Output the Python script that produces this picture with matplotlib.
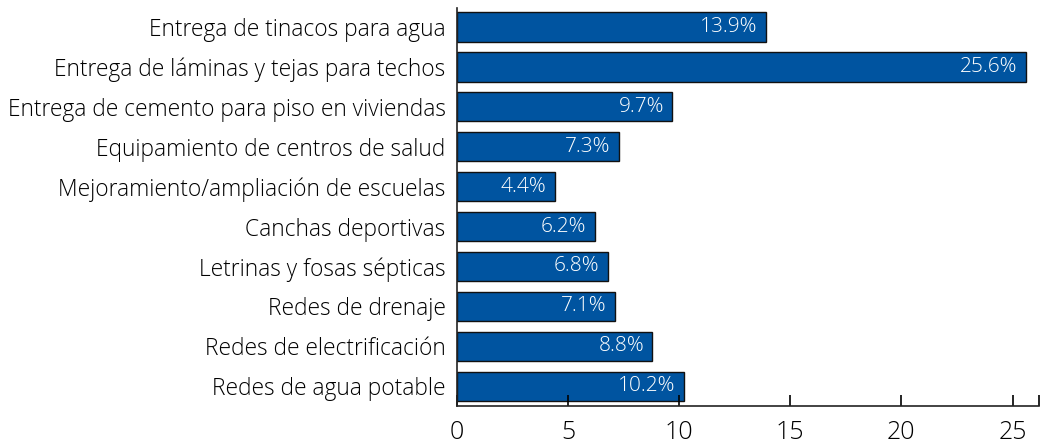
import matplotlib
matplotlib.use("Agg")
import matplotlib.pyplot as plt
from matplotlib.ticker import FixedLocator

plt.rcParams['font.family'] = ['Open Sans', 'DejaVu Sans']
plt.rcParams['font.weight'] = 'light'

categorias = [
    'Entrega de tinacos para agua',
    'Entrega de láminas y tejas para techos',
    'Entrega de cemento para piso en viviendas',
    'Equipamiento de centros de salud',
    'Mejoramiento/ampliación de escuelas',
    'Canchas deportivas',
    'Letrinas y fosas sépticas',
    'Redes de drenaje',
    'Redes de electrificación',
    'Redes de agua potable',
]
valores = [13.9, 25.6, 9.7, 7.3, 4.4, 6.2, 6.8, 7.1, 8.8, 10.2]
xticks = [0, 5, 10, 15, 20, 25]

fig = plt.figure(figsize=(10.55, 4.48), dpi=100)
ax = fig.add_axes([0.433, 0.094, 0.552, 0.888])

pos = list(range(len(categorias)))[::-1]
ax.barh(pos, valores, height=0.74, color='#0054A0', edgecolor='#111111', linewidth=1.0)

for p, v in zip(pos, valores):
    ax.annotate(f'{v:.1f}%', xy=(v, p), xytext=(-6, 0), textcoords='offset points',
                ha='right', va='center', color='white', fontsize=15)

ax.set_yticks(pos)
ax.set_yticklabels(categorias, fontsize=16.4)
ax.tick_params(axis='y', length=0, pad=8)

ax.set_xlim(0, 26.2)
ax.set_ylim(-0.49, 9.47)
ax.set_xticks(xticks)
ax.xaxis.set_minor_locator(FixedLocator([26.2]))
ax.tick_params(axis='x', which='both', direction='in', length=8, width=1.2, labelsize=18, pad=10)
ax.tick_params(axis='x', which='minor', length=8)

for s in ['top', 'right']:
    ax.spines[s].set_visible(False)
for s in ['left', 'bottom']:
    ax.spines[s].set_linewidth(1.2)
    ax.spines[s].set_color('#222222')

fig.savefig('out.png', dpi=100)
